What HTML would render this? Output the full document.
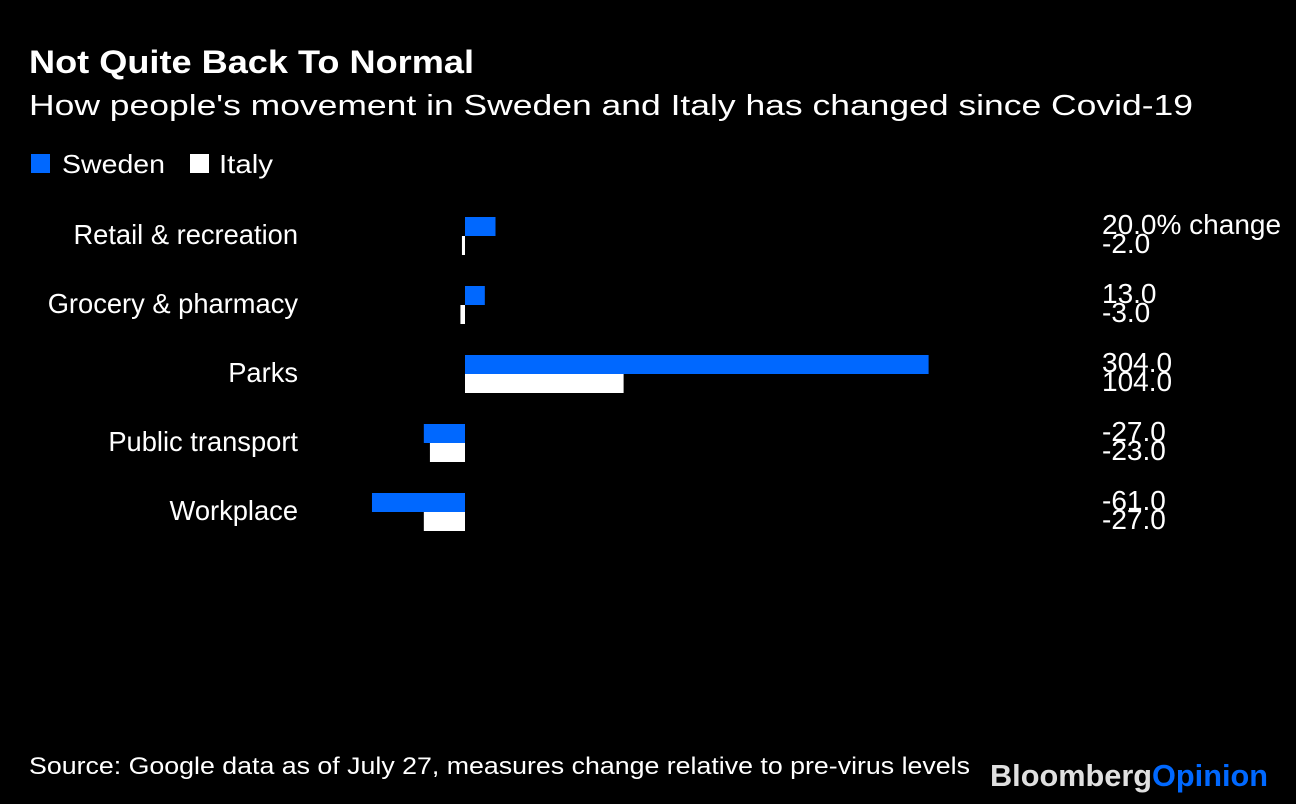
<!DOCTYPE html>
<html><head><meta charset="utf-8"><style>
body{margin:0;background:#000;width:1296px;height:804px;overflow:hidden;font-family:"Liberation Sans",sans-serif;color:#fff}
</style></head><body>
<svg width="1296" height="804" style="position:absolute;left:0;top:0">
<text x="29" y="73" font-size="32" font-weight="bold" fill="#fff" textLength="445" lengthAdjust="spacingAndGlyphs">Not Quite Back To Normal</text>
<text x="29" y="115" font-size="29" fill="#fff" textLength="1164" lengthAdjust="spacingAndGlyphs">How people's movement in Sweden and Italy has changed since Covid-19</text>
<rect x="31" y="154" width="19" height="19" fill="#0068ff"/>
<text x="62" y="173" font-size="26" fill="#fff" textLength="103" lengthAdjust="spacingAndGlyphs">Sweden</text>
<rect x="190" y="154" width="19" height="19" fill="#fff"/>
<text x="219" y="173" font-size="26" fill="#fff" textLength="54" lengthAdjust="spacingAndGlyphs">Italy</text>
<g id="bars"></g>
<text x="29" y="774" font-size="24" fill="#fff" textLength="941" lengthAdjust="spacingAndGlyphs">Source: Google data as of July 27, measures change relative to pre-virus levels</text>
<text x="990" y="786" font-size="31" font-weight="bold" textLength="278" lengthAdjust="spacingAndGlyphs"><tspan fill="#e0e0e0">Bloomberg</tspan><tspan fill="#0068ff">Opinion</tspan></text>
</svg>
<script>
const categories=["Retail & recreation","Grocery & pharmacy","Parks","Public transport","Workplace"];
const sweden=[20,13,304,-27,-61];
const italy=[-2,-3,104,-23,-27];
const swedenLabels=["20.0% change","13.0","304.0","-27.0","-61.0"];
const italyLabels=["-2.0","-3.0","104.0","-23.0","-27.0"];
const NS="http://www.w3.org/2000/svg";
const g=document.getElementById('bars');
const x0=465,k=1.525;
const xs=v=>x0+v*k;
const rowY=i=>217+i*69;
function mk(t,a){const e=document.createElementNS(NS,t);for(const n in a)e.setAttribute(n,a[n]);g.appendChild(e);return e;}
categories.forEach((c,i)=>{
  const y=rowY(i);
  const l=mk('text',{x:298,y:y+27,'font-size':27.3,fill:'#fff','text-anchor':'end'});
  l.textContent=c;
  
  
  [[sweden,'#0068ff',0,swedenLabels],[italy,'#fff',19,italyLabels]].forEach(([arr,col,off,labs],j)=>{
    const v=arr[i],a=xs(0),b=xs(v);
    const r=mk('rect',{x:Math.min(a,b),y:y+off,width:Math.max(Math.abs(b-a),2),height:19,fill:col});
    
    
    const t=mk('text',{x:1102,y:y+off+17,'font-size':28,fill:'#fff'});
    t.textContent=labs[i];
    
    
  });
});
</script>
</body></html>
